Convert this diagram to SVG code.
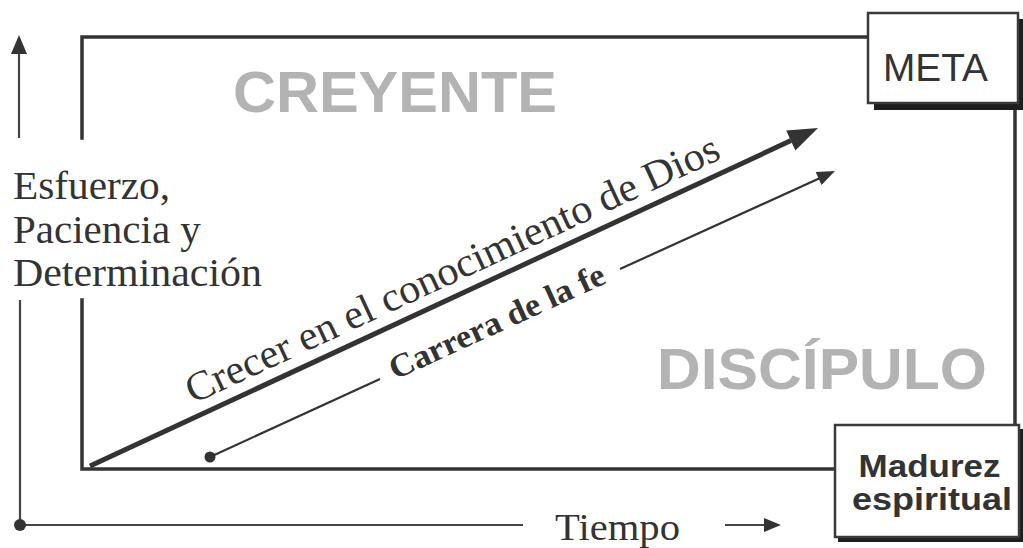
<svg xmlns="http://www.w3.org/2000/svg" width="1023" height="548" viewBox="0 0 1023 548">
<style>
.frame{stroke:#333;stroke-width:3.5;fill:none;stroke-linecap:square}
.axis{stroke:#444;stroke-width:2.2;fill:none}
.ink{fill:#333}
.serif{font-family:"Liberation Serif","Times New Roman",serif;fill:#333}
.big{font-family:"Liberation Sans",Arial,sans-serif;font-weight:bold;fill:#b3b3b3}
.box{fill:#fff;stroke:#3a3a3a;stroke-width:2.5}
.shadow{fill:#1e1e1e}
.boxtxt{font-family:"Liberation Sans",Arial,sans-serif;fill:#333}
</style>
<rect width="1023" height="548" fill="#fff"/>
<g id="connectors">
  <!-- main frame -->
  <path class="frame" d="M82,138 V37 H868"/>
  <path class="frame" d="M82,300 V469 H835"/>
  <path class="frame" d="M1015,110 V425"/>
  <!-- vertical axis -->
  <path class="axis" d="M19,138 V52"/>
  <polygon class="ink" points="19,35 27,54 11,54"/>
  <path class="axis" d="M20,300 V525 H523"/>
  <circle class="ink" cx="20" cy="525" r="6"/>
  <!-- time arrow -->
  <path class="axis" d="M725,525 H766"/>
  <polygon class="ink" points="781,525 764,518 764,532"/>
  <!-- thick arrow -->
  <path d="M90,466 L791,140.6" stroke="#333" stroke-width="5" fill="none"/>
  <polygon class="ink" points="818,128 795.4,150.6 786.2,130.6"/>
  <!-- thin arrow -->
  <circle class="ink" cx="210" cy="457" r="5.5"/>
  <path d="M210,457 L380,379" stroke="#333" stroke-width="2.2" fill="none"/>
  <path d="M620,269 L819,178.5" stroke="#333" stroke-width="2.2" fill="none"/>
  <polygon class="ink" points="835,171 821.5,184.9 815.7,172.1"/>
</g>
<g id="label-creyente">
  <text class="big" x="233" y="112" font-size="57" textLength="324" lengthAdjust="spacingAndGlyphs">CREYENTE</text>
</g>
<g id="label-discipulo">
  <text class="big" x="657" y="389" font-size="58" textLength="330" lengthAdjust="spacingAndGlyphs">DISCÍPULO</text>
</g>
<g id="label-eje-y">
  <text class="serif" font-size="41">
    <tspan x="13" y="199" textLength="157" lengthAdjust="spacingAndGlyphs">Esfuerzo,</tspan>
    <tspan x="13" y="243">Paciencia y</tspan>
    <tspan x="13" y="286" textLength="249" lengthAdjust="spacingAndGlyphs">Determinación</tspan>
  </text>
</g>
<g id="label-tiempo">
  <text class="serif" x="555" y="540" font-size="38" textLength="125" lengthAdjust="spacingAndGlyphs">Tiempo</text>
</g>
<g id="label-crecer">
  <text class="serif" font-size="41" transform="translate(193,404) rotate(-24.9)" textLength="584" lengthAdjust="spacingAndGlyphs">Crecer en el conocimiento de Dios</text>
</g>
<g id="label-carrera">
  <text class="serif" font-size="33" font-weight="bold" transform="translate(395,380) rotate(-24.6)" textLength="234" lengthAdjust="spacingAndGlyphs">Carrera de la fe</text>
</g>
<g id="node-meta">
  <rect class="shadow" x="874" y="19" width="150" height="91"/>
  <rect class="box" x="868" y="13" width="150" height="90"/>
  <text class="boxtxt" x="883" y="81" font-size="38" textLength="105" lengthAdjust="spacingAndGlyphs">META</text>
</g>
<g id="node-madurez">
  <rect class="shadow" x="838" y="429" width="185" height="113"/>
  <rect class="box" x="835" y="425" width="184" height="112"/>
  <text class="boxtxt" font-weight="bold" font-size="32" text-anchor="middle">
    <tspan x="934" y="477" textLength="142" lengthAdjust="spacingAndGlyphs">Madurez</tspan>
    <tspan x="932" y="510" textLength="160" lengthAdjust="spacingAndGlyphs">espiritual</tspan>
  </text>
</g>
</svg>
